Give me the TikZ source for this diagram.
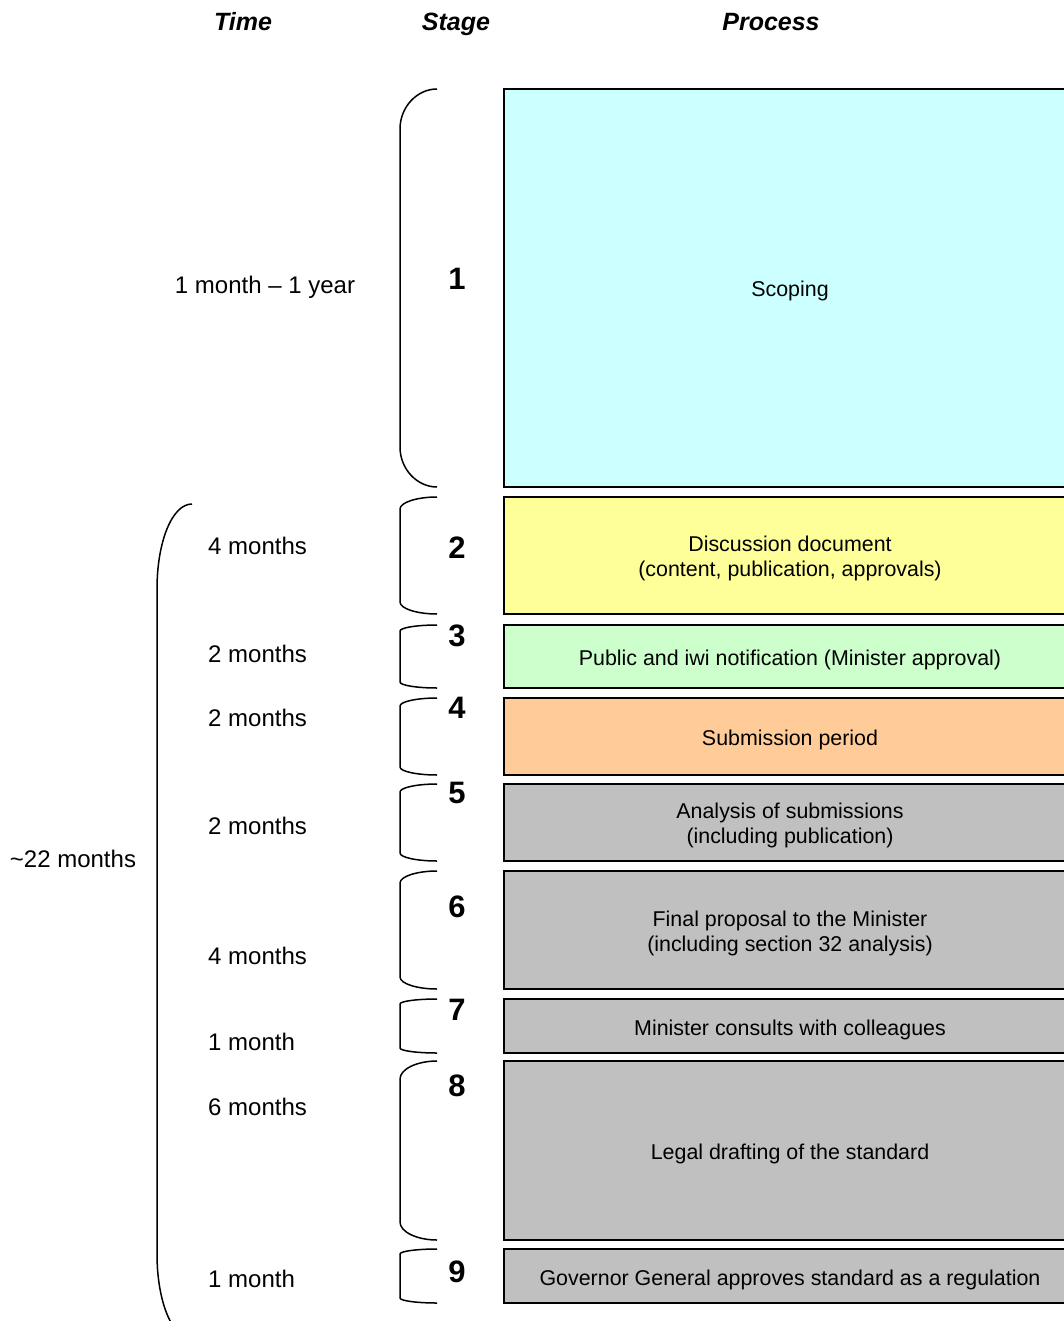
\documentclass[tikz,border=0pt]{standalone}
\usepackage{fontspec}
\setmainfont{Liberation Sans}
\usetikzlibrary{calc}

\definecolor{scopefill}{HTML}{CCFFFF}
\definecolor{discfill}{HTML}{FFFF99}
\definecolor{notefill}{HTML}{CCFFCC}
\definecolor{subfill}{HTML}{FFCC99}
\definecolor{restfill}{HTML}{C0C0C0}

\newcommand\boxstrut{\rule[-5pt]{0pt}{28pt}}
\newcommand\linestrut{\rule{0pt}{22pt}}

\tikzset{
  procbox/.style={draw, line width=1.5pt, outer sep=0pt, minimum width=572pt, align=center,
    font=\fontsize{21.4}{25}\selectfont,
    execute at begin node=\boxstrut, execute at end node=\boxstrut},
  stagenum/.style={anchor=base, font=\fontsize{31}{31}\selectfont\bfseries},
  timelbl/.style={anchor=base west, inner sep=0pt, font=\fontsize{24}{28}\selectfont},
  header/.style={anchor=base, font=\fontsize{25}{25}\selectfont\bfseries\itshape},
  bracket/.style={line width=1.5pt}
}

% #1 = box it belongs to, #2 = size of the rounded end
\newcommand\stagebrace[2]{%
  \draw[bracket] (bx |- #1.north) .. controls +(-20,0) and +(0,-0.55*#2) .. ($(bx |- #1.north)+(-37,#2)$)
    -- ($(bx |- #1.south)+(-37,-#2)$) .. controls +(0,0.55*#2) and +(-20,0) .. (bx |- #1.south);}

\begin{document}
\begin{tikzpicture}[x=1pt,y=-1pt]
\useasboundingbox (0,0) rectangle (1064,1321);

\node[header] (time) at (243,31) {Time};
\node[header] (stage) at (456,31) {Stage};
\node[header] (process) at (771,31) {Process};

\coordinate (bx) at (437,0);

% process boxes
\node[procbox, fill=scopefill, minimum height=398pt] (s1) at (790,288) {Scoping};
\node[procbox, fill=discfill, minimum height=117pt] (s2) at (790,555.5) {\linestrut Discussion document\\(content, publication, approvals)};
\node[procbox, fill=notefill, minimum height=63pt] (s3) at (790,656.5) {Public and iwi notification (Minister approval)};
\node[procbox, fill=subfill, minimum height=77pt] (s4) at (790,736.5) {Submission period};
\node[procbox, fill=restfill, minimum height=77pt] (s5) at (790,822.5) {\linestrut Analysis of submissions\\(including publication)};
\node[procbox, fill=restfill, minimum height=118pt] (s6) at (790,930) {\linestrut Final proposal to the Minister\\(including section 32 analysis)};
\node[procbox, fill=restfill, minimum height=54pt] (s7) at (790,1026) {Minister consults with colleagues};
\node[procbox, fill=restfill, minimum height=179pt] (s8) at (790,1150.5) {Legal drafting of the standard};
\node[procbox, fill=restfill, minimum height=54pt] (s9) at (790,1276) {Governor General approves standard as a regulation};

% stage brackets
\stagebrace{s1}{40}
\stagebrace{s2}{12}
\stagebrace{s3}{6}
\stagebrace{s4}{8}
\stagebrace{s5}{8}
\stagebrace{s6}{12}
\stagebrace{s7}{5}
\stagebrace{s8}{18}
\stagebrace{s9}{5}

% stage numbers
\node[stagenum] (n1) at (457,290) {1};
\node[stagenum] (n2) at (457,558) {2};
\node[stagenum] (n3) at (457,646) {3};
\node[stagenum] (n4) at (457,718) {4};
\node[stagenum] (n5) at (457,803) {5};
\node[stagenum] (n6) at (457,917) {6};
\node[stagenum] (n7) at (457,1020) {7};
\node[stagenum] (n8) at (457,1096) {8};
\node[stagenum] (n9) at (457,1282) {9};

% times
\node[timelbl, anchor=base] (t1) at (265,293.6) {1 month -- 1 year};
\node[timelbl] (t2) at (208,554.6) {4 months};
\node[timelbl] (t3) at (208,662.6) {2 months};
\node[timelbl] (t4) at (208,726.6) {2 months};
\node[timelbl] (t5) at (208,834.6) {2 months};
\node[timelbl] (t6) at (208,964.6) {4 months};
\node[timelbl] (t7) at (208,1050.6) {1 month};
\node[timelbl] (t8) at (208,1115.6) {6 months};
\node[timelbl] (t9) at (208,1287.6) {1 month};

% total
\draw[bracket] (192,504) .. controls +(-20,0) and +(0,-47) .. (157,589) -- (157,1254)
  .. controls +(0,47) and +(-20,0) .. (192,1339);
\node[timelbl, anchor=base] (total) at (73,867.6) {\textasciitilde 22 months};
\end{tikzpicture}
\end{document}
